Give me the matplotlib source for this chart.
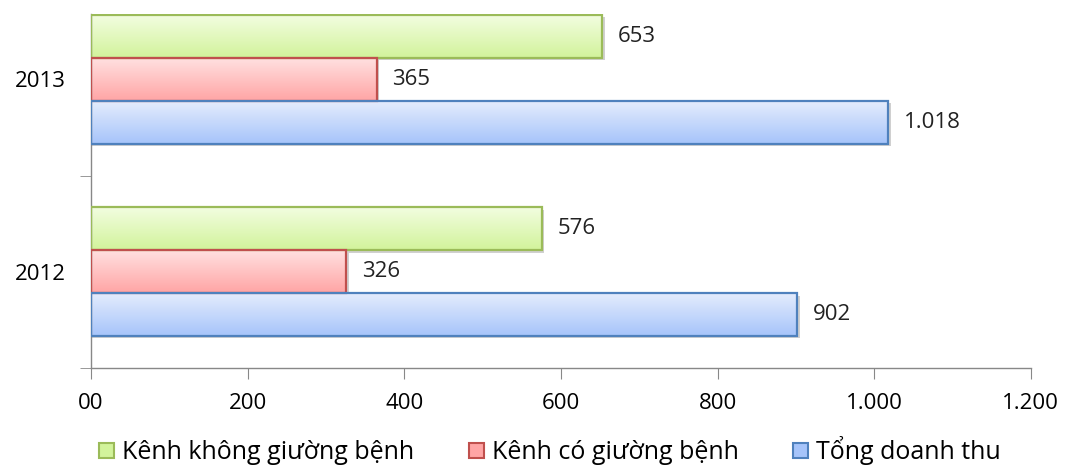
import numpy as np
import matplotlib
matplotlib.use("Agg")
import matplotlib.pyplot as plt
from matplotlib.patches import Patch
from matplotlib.colors import LinearSegmentedColormap

years = ["2012", "2013"]
series_names = ["Kênh không giường bệnh", "Kênh có giường bệnh", "Tổng doanh thu"]
khong_giuong = [576, 653]
co_giuong = [326, 365]
tong = [902, 1018]
x_ticks = [0, 200, 400, 600, 800, 1000, 1200]
x_tick_labels = ["00", "200", "400", "600", "800", "1.000", "1.200"]

plt.rcParams['font.family'] = ['Open Sans', 'DejaVu Sans']

fig = plt.figure(figsize=(10.68, 4.70), dpi=100)
ax = fig.add_axes([0.0852, 0.217, 0.880, 0.753])

styles = [
    ("#f2fde0", "#d2f39b", "#9bbb59"),
    ("#ffe0e0", "#ffa5a5", "#c0504d"),
    ("#e4ecfd", "#a6c4fa", "#4f81bd"),
]
data = [khong_giuong, co_giuong, tong]
offsets = [0.223, 0.0, -0.223]
h = 0.223
ypos = np.arange(len(years))

ax.set_xlim(0, 1200)
ax.set_ylim(-0.495, 1.339)

for vals, off, (c1, c2, ec) in zip(data, offsets, styles):
    cmap = LinearSegmentedColormap.from_list("g", [c2, c1])
    bars = ax.barh(ypos + off, vals, height=h, color="none", edgecolor=ec, linewidth=1.6, zorder=3)
    for b, v in zip(bars, vals):
        x0, y0 = b.get_x(), b.get_y()
        w, hh = b.get_width(), b.get_height()
        sh = plt.Rectangle((x0, y0 - 0.012), w + 3, hh, facecolor="#d0d0d0", edgecolor="none", zorder=1)
        ax.add_patch(sh)
        grad = np.linspace(0, 1, 100).reshape(-1, 1)
        im = ax.imshow(grad, cmap=cmap, aspect="auto", origin="lower",
                       extent=(x0, x0 + w, y0, y0 + hh), zorder=2)
        im.set_clip_path(b)
        lbl = f"{v:,}".replace(",", ".")
        ax.text(v + 20, y0 + hh / 2, lbl, va="center", ha="left", fontsize=16, color="#222222", zorder=4)

ax.set_xlim(0, 1200)
ax.set_ylim(-0.495, 1.339)

for s in ["top", "right"]:
    ax.spines[s].set_visible(False)
for s in ["left", "bottom"]:
    ax.spines[s].set_color("#888888")
    ax.spines[s].set_linewidth(1.0)

ax.set_xticks(x_ticks)
ax.set_xticklabels(x_tick_labels, fontsize=16)
ax.tick_params(axis="x", length=8, color="#888888", pad=10)

ax.set_yticks(ypos)
ax.set_yticklabels(years, fontsize=16)
ax.tick_params(axis="y", which="major", length=0, pad=18)
ax.set_yticks([-0.5, 0.5], minor=True)
ax.tick_params(axis="y", which="minor", length=8, color="#888888")

handles = [Patch(facecolor=c2, edgecolor=ec, linewidth=1.5) for (c1, c2, ec) in styles]
fig.legend(handles, series_names, loc="lower center", bbox_to_anchor=(0.515, -0.038), ncol=3,
           frameon=False, fontsize=18, handlelength=0.6, handleheight=0.6, handletextpad=0.3,
           columnspacing=2.2)

fig.savefig("out.png", dpi=100)
